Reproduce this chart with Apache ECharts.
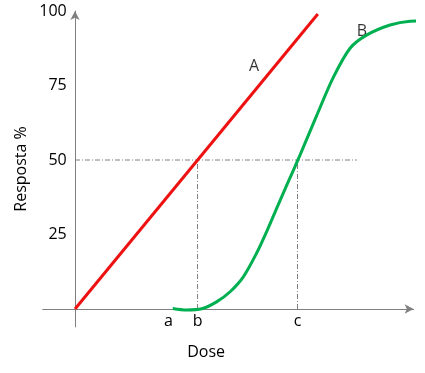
<!DOCTYPE html>
<html><head><meta charset="utf-8">
<script src="https://cdn.jsdelivr.net/npm/echarts@6/dist/echarts.min.js"></script>
<style>html,body{margin:0;padding:0;background:#fff}#c{width:425px;height:373px}</style>
</head><body><div id="c"></div>
<script>
// Dose ticks (letters) and their dose values
var doseTickNames = ['a', 'b', 'c'];
var doseTickValues = [2.9, 3.8, 6.9];
// Response tick labels
var respTicks = [25, 50, 75, 100];
// Curve A (linear)
var curveA = [[0, 0], [7.53, 99]];
// Curve B (sigmoid)
var curveB = [[3.03, 0.2], [3.46, -0.3], [3.93, 0.1], [4.39, 2.4], [4.81, 5.8], [5.22, 10.8], [5.63, 18.7],
  [5.94, 25.9], [6.25, 33.7], [6.56, 41.4], [6.98, 51.7], [7.49, 64.8], [8.01, 77.7], [8.53, 87.5],
  [9.04, 91.9], [9.77, 95.3], [10.39, 96.6], [10.8, 96.7]];
// Reference level and guide extents
var refLevel = 50;
var refLineEnd = 8.74;
// Curve name annotations
var curveLabels = [{name: 'A', dose: 5.55, resp: 81.5}, {name: 'B', dose: 8.9, resp: 93}];

var FONT = '"Open Sans"';
var guideStyle = {color: '#7f7f7f', width: 1, type: [5, 2, 1, 2]};
var chart = echarts.init(document.getElementById('c'));
chart.setOption({
  animation: false,
  grid: {left: 42.75, right: 11.4, top: 11, bottom: 46.1, containLabel: false, outerBoundsMode: 'none'},
  xAxis: {
    type: 'value', min: -1, max: 10.5,
    name: 'Dose', nameLocation: 'middle', nameGap: 18, nameMoveOverlap: false,
    nameTextStyle: {fontFamily: FONT, fontSize: 16, color: '#000', padding: [0, 44, 0, 0]},
    axisLine: {onZero: true, symbol: ['none', 'arrow'], symbolSize: [7, 9], lineStyle: {color: '#808080', width: 1}},
    axisTick: {show: false},
    splitLine: {show: false},
    axisLabel: {
      customValues: doseTickValues, margin: -13,
      fontFamily: FONT, fontSize: 16, color: '#000',
      formatter: function (v) {
        for (var i = 0; i < doseTickValues.length; i++) if (Math.abs(doseTickValues[i] - v) < 1e-6) return doseTickNames[i];
        return '';
      }
    }
  },
  yAxis: {
    type: 'value', min: -6, max: 100,
    name: 'Resposta %', nameLocation: 'middle', nameGap: 13, nameMoveOverlap: false,
    nameTextStyle: {fontFamily: FONT, fontSize: 16, color: '#000'},
    axisLine: {onZero: true, symbol: ['none', 'arrow'], symbolSize: [7, 9], lineStyle: {color: '#808080', width: 1}},
    axisTick: {show: false},
    splitLine: {show: false},
    axisLabel: {customValues: respTicks, margin: -24, fontFamily: FONT, fontSize: 16, color: '#000'}
  },
  series: [
    {type: 'line', data: [[0, refLevel], [refLineEnd, refLevel]], symbol: 'none', lineStyle: guideStyle, silent: true},
    {type: 'line', data: [[doseTickValues[1], 0], [doseTickValues[1], refLevel]], symbol: 'none', lineStyle: guideStyle, silent: true},
    {type: 'line', data: [[doseTickValues[2], 0], [doseTickValues[2], refLevel]], symbol: 'none', lineStyle: guideStyle, silent: true},
    {type: 'line', name: 'A', data: curveA, symbol: 'none', lineStyle: {color: '#ee1111', width: 3}},
    {type: 'line', name: 'B', data: curveB, symbol: 'none', smooth: 0.3, clip: false, lineStyle: {color: '#00b050', width: 3}},
    {type: 'scatter', symbolSize: 0, data: curveLabels.map(function (d) { return {name: d.name, value: [d.dose, d.resp]}; }),
      label: {show: true, position: 'inside', formatter: '{b}', fontFamily: FONT, fontSize: 16, color: '#000'}}
  ]
});
</script></body></html>
